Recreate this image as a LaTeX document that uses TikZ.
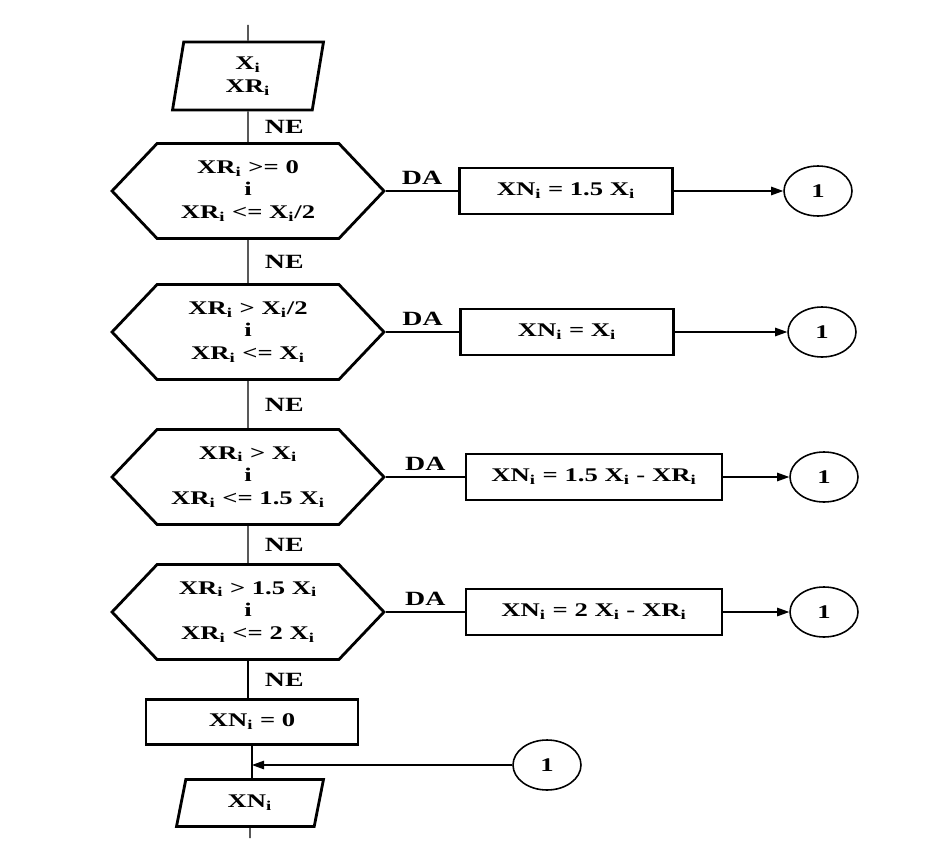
\documentclass[tikz,border=0pt]{standalone}
\usepackage{fontspec}
\setmainfont{Liberation Serif}[FakeStretch=1.38]
\usetikzlibrary{shapes.geometric, shapes.symbols, arrows.meta}

\newcommand{\subi}{\textsubscript{i}}

\tikzset{
    io/.style={trapezium, trapezium stretches body, draw, line width=1.6pt, align=center, inner sep=1pt},
    cond/.style={signal, signal to=west and east, signal pointer angle=93, draw, line width=1.6pt,
        minimum width=5.44cm, minimum height=1.9cm, align=center, inner sep=0pt},
    calc/.style={rectangle, draw, line width=1.6pt, minimum height=0.92cm},
    conn/.style={ellipse, draw, line width=0.9pt, minimum width=1.36cm, minimum height=1cm, inner sep=0pt},
    flow/.style={line width=0.6pt},
    jump/.style={line width=0.6pt, -{Triangle[length=0.24cm, width=0.17cm]}},
    tag/.style={font=\bfseries\fontsize{11.5}{13}\selectfont}
}

\begin{document}
\begin{tikzpicture}[x=0.02cm, y=-0.02cm, font=\bfseries\fontsize{11}{13}\selectfont]
    \useasboundingbox (0,0) rectangle (926,855);

    % Draw nodes
    \coordinate (top) at (248,25);
    \node[io, trapezium left angle=75, trapezium right angle=105, minimum width=3.02cm, minimum height=1.36cm] (in) at (248,76) {X\subi\\XR\subi};

    \node[cond] (d1) at (248,191) {XR\subi{} >= 0\\i\\XR\subi{} <= X\subi/2};
    \node[cond] (d2) at (248,332) {XR\subi{} > X\subi/2\\i\\XR\subi{} <= X\subi};
    \node[cond] (d3) at (248,477) {XR\subi{} > X\subi\\i\\XR\subi{} <= 1.5 X\subi};
    \node[cond] (d4) at (248,612) {XR\subi{} > 1.5 X\subi\\i\\XR\subi{} <= 2 X\subi};

    \node[calc, minimum width=4.26cm] (p1) at (566,191) {XN\subi{} = 1.5 X\subi};
    \node[calc, minimum width=4.26cm] (p2) at (567,332) {XN\subi{} = X\subi};
    \node[calc, minimum width=5.12cm] (p3) at (594,477) {XN\subi{} = 1.5 X\subi{} - XR\subi};
    \node[calc, minimum width=5.12cm] (p4) at (594,612) {XN\subi{} = 2 X\subi{} - XR\subi};

    \node[conn] (k1) at (818,191) {1};
    \node[conn] (k2) at (822,332) {1};
    \node[conn] (k3) at (824,477) {1};
    \node[conn] (k4) at (824,612) {1};

    \node[calc, minimum width=4.24cm, minimum height=0.9cm] (p5) at (252,722) {XN\subi{} = 0};
    \node[conn] (k5) at (547,765) {1};
    \coordinate (join) at (252,765);
    \node[io, trapezium left angle=64, trapezium right angle=116, minimum width=2.94cm, minimum height=0.94cm] (out) at (250,803) {XN\subi};
    \coordinate (bot) at (250,838);

    % Draw connections
    \draw[flow] (top) -- (in);
    \draw[flow] (in) -- (d1) node[midway, right, tag, xshift=6pt] {NE};
    \draw[flow] (d1) -- (d2) node[midway, right, tag, xshift=6pt] {NE};
    \draw[flow] (d2) -- (d3) node[midway, right, tag, xshift=6pt] {NE};
    \draw[flow] (d3) -- (d4) node[midway, right, tag, xshift=6pt] {NE};
    \draw[flow] (d4.south) -- (d4.south |- p5.north) node[midway, right, tag, xshift=6pt] {NE};
    \draw[flow] (p5.south) -- (p5.south |- out.north);
    \draw[flow] (out.south) -- (bot);

    \draw[flow] (d1.east) -- (p1) node[midway, above, tag] {DA};
    \draw[flow] (d2.east) -- (p2) node[midway, above, tag] {DA};
    \draw[flow] (d3.east) -- (p3) node[midway, above, tag] {DA};
    \draw[flow] (d4.east) -- (p4) node[midway, above, tag] {DA};

    \draw[jump] (p1) -- (k1);
    \draw[jump] (p2) -- (k2);
    \draw[jump] (p3) -- (k3);
    \draw[jump] (p4) -- (k4);
    \draw[jump] (k5) -- (join);
\end{tikzpicture}
\end{document}
